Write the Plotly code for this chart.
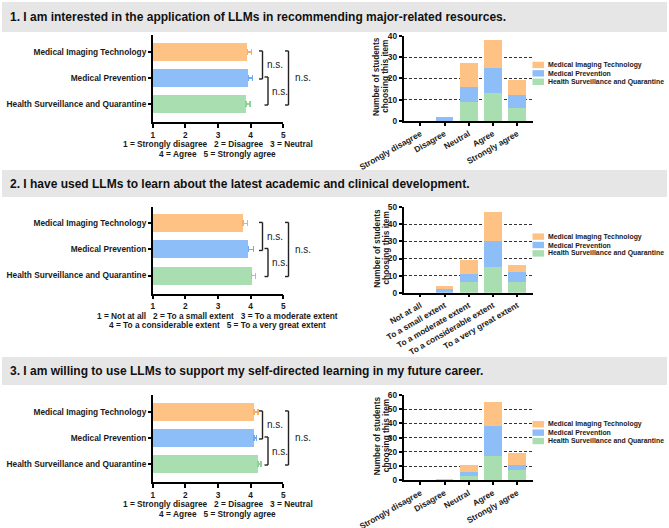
import plotly.graph_objects as go

W, H = 669, 528

# ---------------- data ----------------
programs = ["Medical Imaging Technology", "Medical Prevention", "Health Surveillance and Quarantine"]
bar_colors = ["#FFC285", "#8DBEF7", "#A9DEB0"]
err_colors = ["#F6AE66", "#6EA9F2", "#8ED29A"]

titles = [
    "1. I am interested in the application of LLMs in recommending major-related resources.",
    "2. I have used LLMs to learn about the latest academic and clinical development.",
    "3. I am willing to use LLMs to support my self-directed learning in my future career.",
]

agree_cats = ["Strongly disagree", "Disagree", "Neutral", "Agree", "Strongly agree"]
extent_cats = ["Not at all", "To a small extent", "To a moderate extent",
               "To a considerable extent", "To a very great extent"]

agree_note = ["1 = Strongly disagree   2 = Disagree   3 = Neutral", "4 = Agree   5 = Strongly agree"]
extent_note = ["1 = Not at all   2 = To a small extent   3 = To a moderate extent",
               "4 = To a considerable extent   5 = To a very great extent"]

score_ticks = [1, 2, 3, 4, 5]
score_min = 1

# mean score (+SEM), order: MIT, MP, HSQ
q1_means = [3.90, 3.93, 3.85]
q1_sems = [0.13, 0.12, 0.13]
q2_means = [3.77, 3.93, 4.03]
q2_sems = [0.13, 0.15, 0.12]
q3_means = [4.10, 4.10, 4.22]
q3_sems = [0.13, 0.08, 0.10]

# counts per answer, order of categories
q1_mit = [0, 0, 11, 13, 7]
q1_mp = [0, 2, 7, 12, 6]
q1_hsq = [0, 0, 9, 13, 6]
q2_mit = [0, 2, 8, 17, 4]
q2_mp = [0, 2, 5, 15, 6]
q2_hsq = [0, 0, 6, 15, 6]
q3_mit = [0, 1, 5, 17, 8]
q3_mp = [0, 0, 3, 21, 4]
q3_hsq = [0, 0, 3, 17, 7]

count_max = [40, 50, 60]

sig_labels = ["n.s.", "n.s.", "n.s."]

# ---------------- layout geometry (pixels) ----------------
bands = [(2, 32), (170, 197), (357, 385)]
left_x_px = (152.7, 283.3)
right_x_px = (403.5, 533.0)
left_y_px = [(35, 122), (206.5, 293.5), (395, 482)]
right_y_px = [(35.7, 121), (207.3, 292.7), (395, 480.3)]
LEFT_YR = (-0.69, 2.65)
RIGHT_XR = (-0.694, 4.65)
bracket_px = [262.5, 268.0, 288.5]
label_px = [265.5, 270.5, 294.0]

FONT = "Liberation Sans, Arial, sans-serif"


def fx(px):
    return px / W


def fy(py):
    return 1 - py / H


questions = [
    (q1_means, q1_sems, [q1_mit, q1_mp, q1_hsq], agree_cats, agree_note),
    (q2_means, q2_sems, [q2_mit, q2_mp, q2_hsq], extent_cats, extent_note),
    (q3_means, q3_sems, [q3_mit, q3_mp, q3_hsq], agree_cats, agree_note),
]

fig = go.Figure()
layout = dict(
    template="none",
    width=W, height=H, autosize=False,
    margin=dict(l=0, r=0, t=0, b=0, pad=0, autoexpand=False),
    paper_bgcolor="white", plot_bgcolor="white",
    barmode="stack", showlegend=False,
    font=dict(family=FONT, color="#1a1a1a"),
)
shapes = []
annotations = []

tickfont = dict(family=FONT, size=8.3, color="#1a1a1a", weight="bold")

for qi, (means, sems, counts, cats, note) in enumerate(questions):
    nl = 2 * qi + 1
    nr = 2 * qi + 2
    xl, yl = ("x" if nl == 1 else f"x{nl}"), ("y" if nl == 1 else f"y{nl}")
    xr, yr = f"x{nr}", f"y{nr}"

    # header band
    b0, b1 = bands[qi]
    shapes.append(dict(type="rect", xref="paper", yref="paper", x0=fx(2), x1=fx(667),
                       y0=fy(b1), y1=fy(b0), fillcolor="#E6E6E6", line_width=0, layer="below"))
    annotations.append(dict(text=titles[qi], xref="paper", yref="paper", x=fx(8.5), y=fy((b0 + b1) / 2),
                            xanchor="left", yanchor="middle", showarrow=False, borderpad=0,
                            font=dict(family=FONT, size=12.0, color="#111", weight="bold")))

    # ---- left: mean scores (bars start at the scale minimum) ----
    n = len(programs)
    for j, prog in enumerate(programs):
        fig.add_trace(go.Bar(
            orientation="h", y=[n - 1 - j], x=[means[j] - score_min], base=[score_min], width=0.69,
            marker=dict(color=bar_colors[j], line_width=0),
            error_x=dict(type="data", symmetric=False, array=[sems[j]], arrayminus=[0],
                         color=err_colors[j], thickness=1.5, width=3),
            xaxis=xl, yaxis=yl, showlegend=False, hoverinfo="skip"))

    lt, lb = left_y_px[qi]
    layout["xaxis" + ("" if nl == 1 else str(nl))] = dict(
        domain=[fx(left_x_px[0]), fx(left_x_px[1])], anchor=yl, range=[1, 5],
        tickvals=score_ticks, ticktext=[str(t) for t in score_ticks], automargin=False,
        showline=True, linecolor="black", linewidth=1.5, ticks="outside", ticklen=4,
        tickwidth=1.5, tickcolor="black", showgrid=False, zeroline=False, tickfont=tickfont)
    layout["yaxis" + ("" if nl == 1 else str(nl))] = dict(
        domain=[fy(lb), fy(lt)], anchor=xl, range=list(LEFT_YR), automargin=False,
        tickvals=[n - 1 - j for j in range(n)], ticktext=programs,
        showline=True, linecolor="black", linewidth=1.5, ticks="outside", ticklen=3,
        tickwidth=1.5, tickcolor="black", showgrid=False, zeroline=False, tickfont=tickfont)

    def ly(pos, lt=lt, lb=lb):
        return lb - (pos - LEFT_YR[0]) / (LEFT_YR[1] - LEFT_YR[0]) * (lb - lt)

    pairs = [(0, 1), (1, 2), (0, 2)]  # indices in programs
    for k, (a, b) in enumerate(pairs):
        ya = ly(n - 1 - a) - 1
        yb = ly(n - 1 - b) + 1
        xv = bracket_px[k]
        for (x0, y0, x1, y1) in [(xv - 3.5, ya, xv, ya), (xv, ya, xv, yb), (xv - 3.5, yb, xv, yb)]:
            shapes.append(dict(type="line", xref="paper", yref="paper",
                               x0=fx(x0), y0=fy(y0), x1=fx(x1), y1=fy(y1),
                               line=dict(color="#222", width=1.4)))
        annotations.append(dict(text=sig_labels[k], xref="paper", yref="paper",
                                x=fx(label_px[k]), y=fy((ya + yb) / 2), xanchor="left", yanchor="middle",
                                showarrow=False, borderpad=0,
                                font=dict(family=FONT, size=10, color="#1a1a1a")))

    xc = (left_x_px[0] + left_x_px[1]) / 2
    for li, line in enumerate(note):
        annotations.append(dict(text=line.replace(" ", "\u00a0"), xref="paper", yref="paper",
                                x=fx(xc), y=fy(lb + 22 + 9.5 * li), xanchor="center", yanchor="middle",
                                showarrow=False, borderpad=0, font=tickfont))

    # ---- right: stacked counts ----
    for j in reversed(range(n)):
        fig.add_trace(go.Bar(
            x=list(range(len(cats))), y=counts[j], width=0.73,
            marker=dict(color=bar_colors[j], line_width=0),
            xaxis=xr, yaxis=yr, showlegend=False, hoverinfo="skip"))

    rt, rb = right_y_px[qi]
    layout[f"xaxis{nr}"] = dict(
        domain=[fx(right_x_px[0]), fx(right_x_px[1])], anchor=yr, range=list(RIGHT_XR),
        tickvals=list(range(len(cats))), ticktext=cats, tickangle=-30, automargin=False,
        showline=True, linecolor="black", linewidth=1.5, ticks="outside", ticklen=3,
        tickwidth=1.5, tickcolor="black", showgrid=False, zeroline=False, tickfont=tickfont)
    layout[f"yaxis{nr}"] = dict(
        domain=[fy(rb), fy(rt)], anchor=xr, range=[0, count_max[qi]], dtick=10, automargin=False,
        showline=True, linecolor="black", linewidth=1.5, ticks="outside", ticklen=3,
        tickwidth=1.5, tickcolor="black", showgrid=True, gridcolor="#333", gridwidth=1,
        griddash="3px,2px", zeroline=False, tickfont=tickfont)

    ymid = (rt + rb) / 2
    annotations.append(dict(text="Number of students", xref="paper", yref="paper",
                            x=fx(376.7), y=fy(ymid - 2), textangle=-90, showarrow=False, borderpad=0,
                            xanchor="center", yanchor="middle", font=tickfont))
    annotations.append(dict(text="choosing this item", xref="paper", yref="paper",
                            x=fx(385.5), y=fy(ymid - 2), textangle=-90, showarrow=False, borderpad=0,
                            xanchor="center", yanchor="middle", font=tickfont))

    # manual legend
    lc = ymid - 5
    for j, prog in enumerate(programs):
        yy = lc + (j - 1) * 8.4
        shapes.append(dict(type="rect", xref="paper", yref="paper", x0=fx(532.5), x1=fx(544),
                           y0=fy(yy + 3.2), y1=fy(yy - 3.2), fillcolor=bar_colors[j], line_width=0))
        annotations.append(dict(text=prog, xref="paper", yref="paper", x=fx(546.5), y=fy(yy),
                                xanchor="left", yanchor="middle", showarrow=False, borderpad=0,
                                font=dict(family=FONT, size=6.9, color="#1a1a1a", weight="bold")))

layout["shapes"] = shapes
layout["annotations"] = annotations
fig.update_layout(**layout)
fig.write_html("out.html")
